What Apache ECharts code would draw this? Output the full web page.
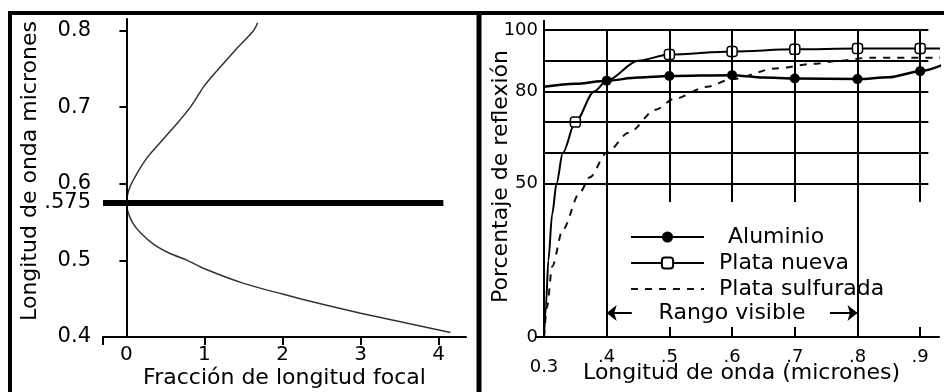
<!DOCTYPE html>
<html>
<head>
<meta charset="utf-8">
<script src="https://cdn.jsdelivr.net/npm/echarts@6/dist/echarts.min.js"></script>
<style>
  html, body { margin: 0; padding: 0; background: #fff; }
  #chart { width: 944px; height: 392px; }
</style>
</head>
<body>
<div id="chart"></div>
<script>
// left panel: wavelength vs fraction of focal length
const focalX = [1.68, 1.63, 1.4, 1.2, 1.0, 0.82, 0.6, 0.4, 0.28, 0.18, 0.1, 0.05, 0.015, 0, 0.02, 0.08, 0.18, 0.35, 0.56, 0.78, 1.0, 1.5, 2.0, 2.5, 3.0, 3.6, 4.15];
const focalY = [0.81, 0.8, 0.775, 0.752, 0.728, 0.7, 0.673, 0.65, 0.636, 0.621, 0.607, 0.597, 0.586, 0.575, 0.563, 0.549, 0.536, 0.521, 0.509, 0.5, 0.489, 0.47, 0.456, 0.443, 0.431, 0.418, 0.406];
const focalWave = 0.575;
const focalLineEnd = 4.06;
const leftXTicks = [0, 1, 2, 3, 4];
const leftYLabels = [0.4, 0.5, 0.575, 0.6, 0.7, 0.8];

// right panel: reflectance vs wavelength
const aluX = [0.3, 0.35, 0.4, 0.45, 0.5, 0.6, 0.65, 0.7, 0.8, 0.85, 0.9, 0.94];
const aluY = [81.5, 82.5, 83.5, 84.5, 85, 85.3, 84.5, 84.2, 84, 84.6, 86.6, 89];
const aluMarks = [0.4, 0.5, 0.6, 0.7, 0.8, 0.9];
const silverX = [0.3, 0.303, 0.307, 0.313, 0.32, 0.33, 0.35, 0.38, 0.4, 0.45, 0.5, 0.6, 0.7, 0.8, 0.9, 0.94];
const silverY = [0, 10, 25, 40, 50, 60, 70, 80, 83.5, 90, 92, 93, 93.7, 94, 94, 94];
const silverMarks = [0.35, 0.5, 0.6, 0.7, 0.8, 0.9];
const sulfX = [0.3, 0.305, 0.313, 0.33, 0.357, 0.373, 0.4, 0.435, 0.478, 0.507, 0.56, 0.6, 0.67, 0.73, 0.77, 0.82, 0.94];
const sulfY = [0, 10, 23, 35, 47, 52, 60, 66.5, 74, 77.5, 81.5, 84, 87.5, 89, 90, 91, 91];
const rightXLabels = [0.3, 0.4, 0.5, 0.6, 0.7, 0.8, 0.9];
const rightYLabels = [0, 50, 80, 100];
const gridYs = [50, 60, 70, 80, 90, 100];
const gridXsFull = [0.4, 0.8];
const gridXsShort = [0.5, 0.6, 0.7, 0.9];
const gridRight = 0.913;
const shortBottom = 44;
const rangeY = 7.8;

const FONT = 'DejaVu Sans';
const black = '#000';

const chart = echarts.init(document.getElementById('chart'));

const pairs = (xs, ys) => xs.map((x, i) => [x, ys[i]]);
const marked = (xs, ys, marks) => xs.map((x, i) => ({
  value: [x, ys[i]],
  symbol: marks.includes(x) ? undefined : 'none'
}));

const gridLines = [
  ...gridYs.map(y => [{ coord: [0.3, y] }, { coord: [gridRight, y] }]),
  ...gridXsFull.map(x => [{ coord: [x, 0] }, { coord: [x, 100] }]),
  ...gridXsShort.map(x => [{ coord: [x, shortBottom] }, { coord: [x, 100] }]),
];

chart.setOption({
  animation: false,
  textStyle: { fontFamily: FONT, color: black },
  grid: [
    { left: 103, top: 19, width: 363, height: 318, outerBoundsMode: 'none' },
    { left: 544, top: 30, width: 395, height: 307, outerBoundsMode: 'none' },
  ],
  xAxis: [
    {
      gridIndex: 0, type: 'value', min: -0.3, max: 4.35,
      splitLine: { show: false },
      axisLine: { lineStyle: { color: black, width: 2 } },
      axisTick: { customValues: [-0.3, 1, 2, 3, 4], length: 8, lineStyle: { color: black, width: 2 } },
      axisLabel: { customValues: leftXTicks, fontSize: 20, color: black, margin: 8, fontFamily: FONT },
      name: 'Fracción de longitud focal', nameLocation: 'middle', nameGap: 30, nameMoveOverlap: false,
      nameTextStyle: { fontSize: 22, color: black, fontFamily: FONT }
    },
    {
      gridIndex: 1, type: 'value', min: 0.3, max: 0.93,
      splitLine: { show: false },
      axisLine: { lineStyle: { color: black, width: 2 } },
      axisTick: { customValues: gridXsShort, inside: true, length: 10, lineStyle: { color: black, width: 2 } },
      axisLabel: {
        customValues: rightXLabels, fontSize: 18, color: black, margin: 11, fontFamily: FONT,
        formatter: v => Math.abs(v - 0.3) < 1e-6 ? '{b|0.3}' : '.' + Math.round(v * 10),
        rich: { b: { fontSize: 18, fontFamily: FONT, padding: [10, 0, 0, 0] } }
      },
      name: 'Longitud de onda (micrones)', nameLocation: 'middle', nameGap: 25, nameMoveOverlap: false,
      nameTextStyle: { fontSize: 22, color: black, fontFamily: FONT }
    },
    {
      gridIndex: 1, type: 'value', min: 0.3, max: 0.93,
      splitLine: { show: false },
      axisLine: { show: false },
      axisTick: { customValues: [0.3], length: 10, lineStyle: { color: black, width: 2 } },
      axisLabel: { show: false }
    }
  ],
  yAxis: [
    {
      gridIndex: 0, type: 'value', min: 0.4, max: 0.815,
      splitLine: { show: false },
      axisLine: { lineStyle: { color: black, width: 2 } },
      axisTick: { customValues: [0.5, 0.6, 0.7, 0.8], length: 7, lineStyle: { color: black, width: 2 } },
      axisLabel: {
        customValues: leftYLabels, fontSize: 21, color: black, margin: 12, fontFamily: FONT,
        formatter: v => Math.abs(v - 0.575) < 1e-6 ? '.575' : v.toFixed(1)
      },
      name: 'Longitud de onda micrones', nameLocation: 'middle', nameGap: 62, nameRotate: 90, nameMoveOverlap: false,
      nameTextStyle: { fontSize: 22, color: black, fontFamily: FONT, padding: [0, 0, 0, 14] }
    },
    {
      gridIndex: 1, type: 'value', min: 0, max: 100,
      splitLine: { show: false },
      axisLine: { lineStyle: { color: black, width: 2 } },
      axisTick: { customValues: [0], length: 9, lineStyle: { color: black, width: 2 } },
      axisLabel: { customValues: rightYLabels, fontSize: 18, color: black, margin: 6, fontFamily: FONT },
      name: 'Porcentaje de reflexión', nameLocation: 'middle', nameGap: 32, nameRotate: 90, nameMoveOverlap: false,
      nameTextStyle: { fontSize: 22, color: black, fontFamily: FONT, padding: [0, 0, 0, 14] }
    }
  ],
  legend: {
    left: 625, top: 221, orient: 'vertical',
    itemWidth: 73, itemHeight: 14, itemGap: 4,
    selectedMode: false,
    textStyle: { fontSize: 22, color: black, fontFamily: FONT, padding: [0, 0, 0, 10] },
    data: [
      { name: 'Aluminio', textStyle: { padding: [0, 0, 0, 19] } },
      { name: 'Plata nueva' },
      { name: 'Plata sulfurada', itemStyle: { opacity: 0 } }
    ]
  },
  graphic: [
    { type: 'rect', shape: { x: 10, y: 13, width: 1000, height: 500 }, style: { fill: 'none', stroke: black, lineWidth: 4 }, z: 100 },
    { type: 'line', shape: { x1: 479, y1: 13, x2: 479, y2: 400 }, style: { stroke: black, lineWidth: 5 }, z: 100 }
  ],
  series: [
    {
      type: 'line', xAxisIndex: 0, yAxisIndex: 0,
      data: pairs(focalX, focalY),
      smooth: 0.3, symbol: 'none',
      lineStyle: { color: '#333', width: 1.5 },
      markLine: {
        silent: true, symbol: 'none', label: { show: false },
        data: [
          { xAxis: 0, lineStyle: { color: black, width: 2, type: 'solid' } },
          [
            { coord: [-0.3, focalWave], lineStyle: { color: black, width: 6, type: 'solid' } },
            { coord: [focalLineEnd, focalWave] }
          ]
        ]
      }
    },
    {
      type: 'line', xAxisIndex: 1, yAxisIndex: 1, data: [], z: 1,
      markLine: {
        silent: true, symbol: 'none', label: { show: false },
        lineStyle: { color: black, width: 2, type: 'solid' },
        data: gridLines
      }
    },
    {
      name: 'Aluminio', type: 'line', xAxisIndex: 1, yAxisIndex: 1, z: 3, clip: false,
      data: marked(aluX, aluY, aluMarks),
      smooth: 0.3, smoothMonotone: 'x',
      symbol: 'circle', symbolSize: 10, showSymbol: true,
      itemStyle: { color: black },
      lineStyle: { color: black, width: 2.5 }
    },
    {
      name: 'Plata nueva', type: 'line', xAxisIndex: 1, yAxisIndex: 1, z: 4, clip: false,
      data: marked(silverX, silverY, silverMarks),
      smooth: 0.3, smoothMonotone: 'x',
      symbol: 'roundRect', symbolSize: 10, showSymbol: true,
      itemStyle: { color: '#fff', borderColor: black, borderWidth: 1.5 },
      lineStyle: { color: black, width: 2 }
    },
    {
      name: 'Plata sulfurada', type: 'line', xAxisIndex: 1, yAxisIndex: 1, z: 3, clip: false,
      data: pairs(sulfX, sulfY),
      smooth: 0.3, smoothMonotone: 'x', symbol: 'none',
      itemStyle: { color: black },
      lineStyle: { color: '#111', width: 2, type: [7, 7] },
      markLine: {
        silent: true, symbol: ['arrow', 'none'], symbolSize: [12, 10],
        label: { show: false },
        lineStyle: { color: black, width: 2, type: 'solid' },
        data: [
          [{ coord: [0.4, rangeY] }, { coord: [0.44, rangeY] }],
          [{ coord: [0.756, rangeY], symbol: 'none' }, { coord: [0.8, rangeY], symbol: 'arrow' }]
        ]
      },
      markPoint: {
        silent: true, symbol: 'circle', symbolSize: 0,
        label: { show: true, position: 'inside', formatter: 'Rango visible', fontSize: 22, color: black, fontFamily: FONT },
        data: [{ coord: [0.6, rangeY] }]
      }
    }
  ]
});
</script>
</body>
</html>
